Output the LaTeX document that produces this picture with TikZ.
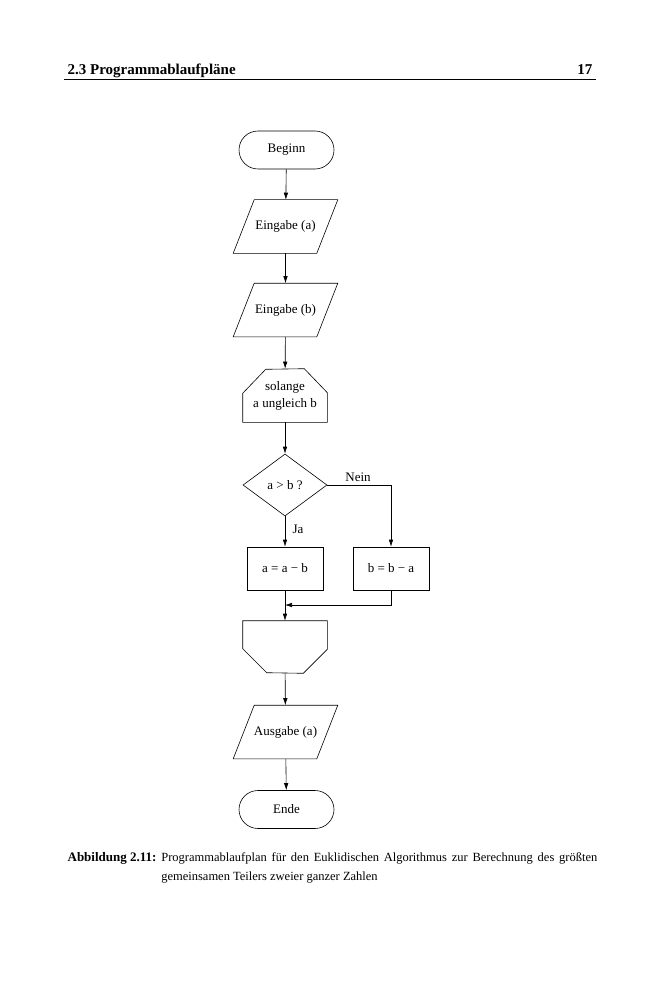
\documentclass[tikz,border=0pt]{standalone}
\usepackage{fontspec}
\setmainfont{Liberation Serif}
\usetikzlibrary{shapes.geometric,arrows.meta}

\begin{document}
\begin{tikzpicture}
[
x=1pt,y=-1pt,
line width=0.6pt,
>={Latex[length=7pt,width=4.5pt]},
chart/.style={font=\fontsize{13}{17}\selectfont,inner sep=0pt},
terminal/.style={chart,draw,rectangle,rounded corners=19pt,minimum width=95pt,minimum height=38pt},
inout/.style={chart,rectangle,minimum width=83pt,minimum height=53pt},
loopbox/.style={chart,rectangle,minimum width=84pt,minimum height=#1,align=center},
decision/.style={chart,draw,diamond,minimum width=84pt,minimum height=62pt},
action/.style={chart,draw,rectangle,minimum width=76pt,minimum height=43pt},
branch/.style={chart,inner sep=1pt},
]
\useasboundingbox (0,0) rectangle (659,1000);

%Page head
\node[anchor=base west,font=\fontsize{15}{17}\selectfont\bfseries] (head) at (64,75) {2.3 Programmablaufpläne};
\node[anchor=base east,font=\fontsize{15}{17}\selectfont\bfseries] (page) at (596,75) {17};
\draw[line width=0.8pt] (64,79.5) -- (596,79.5);

%Place the nodes
\node[terminal] (beginn) at (286.5,150) {Beginn};
\node[inout] (ina) at (285.5,226.5) {Eingabe (a)};
\node[inout] (inb) at (285.5,310) {Eingabe (b)};
\node[loopbox=53pt] (lstart) at (285,395.5) {solange\\a ungleich b};
\node[decision] (test) at (285,485) {a > b ?};
\node[action] (suba) at (285,568.5) {a = a − b};
\node[action] (subb) at (391,568.5) {b = b − a};
\coordinate (merge) at (285,605);
\node[loopbox=52pt] (lend) at (285,647) {};
\node[inout] (outa) at (285.5,732) {Ausgabe (a)};
\node[terminal] (ende) at (286.5,809.5) {Ende};
\node[branch] (nein) at (358,477) {Nein};
\node[branch] (ja) at (298,529) {Ja};

%Outlines
\foreach \n in {ina,inb,outa}
  \draw ([xshift=-10.5pt]\n.south west) -- ([xshift=10.5pt]\n.north west) -- ([xshift=10.5pt]\n.north east) -- ([xshift=-10.5pt]\n.south east) -- cycle;
\draw (lstart.south west) -- ++(0,-29) -- ++(23,-24) -- ([xshift=-23pt]lstart.north east) -- ++(23,24) -- (lstart.south east) -- cycle;
\draw (lend.north west) -- ++(0,28) -- ++(24,24) -- ([xshift=-24pt]lend.south east) -- ++(24,-24) -- (lend.north east) -- cycle;

%Draw the connections
\draw[->] (beginn) -- (ina);
\draw[->] (ina) -- (inb);
\draw[->] (inb) -- (lstart);
\draw[->] (lstart) -- (test);
\draw[->] (test) -- (suba);
\draw[->] (test.east) -| (subb.north);
\draw[->] (subb.south) |- (merge);
\draw[->] (suba) -- (lend);
\draw[->] (lend) -- (outa);
\draw[->] (outa) -- (ende);

%Caption
\node[anchor=base west,font=\fontsize{13}{19}\selectfont\bfseries] (capl) at (64,861) {Abbildung 2.11:};
\node[anchor=base west,text width=436pt,align=justify,inner sep=0pt,font=\fontsize{12.5}{19}\selectfont] (capt) at (161,861)
  {Programmablaufplan für den Euklidischen Algorithmus zur Berechnung des größten gemeinsamen Teilers zweier ganzer Zahlen};
\end{tikzpicture}
\end{document}
